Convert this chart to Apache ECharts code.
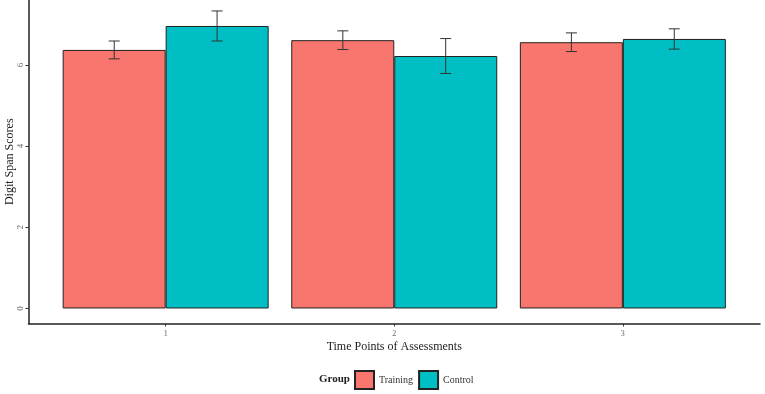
<!DOCTYPE html>
<html>
<head>
<meta charset="utf-8">
<script src="https://cdn.jsdelivr.net/npm/echarts@6/dist/echarts.min.js"></script>
<style>
  html, body { margin: 0; padding: 0; background: #fff; }
  #chart { width: 765px; height: 394px; }
</style>
</head>
<body>
<div id="chart"></div>
<script>
  // time points on the x axis
  const categories = [1, 2, 3];
  const yTicks = [0, 2, 4, 6];
  // group means and error half-widths
  const trainingMeans = [6.37, 6.61, 6.56];
  const trainingErr = [0.22, 0.23, 0.23];
  const controlMeans = [6.96, 6.22, 6.64];
  const controlErr = [0.37, 0.43, 0.25];

  const serif = 'Liberation Serif';
  const dodge = 0.225;

  function errorSeries(means, err, offset) {
    return {
      type: 'custom',
      silent: true,
      z: 10,
      data: categories.map((c, i) => [c, means[i] - err[i], means[i] + err[i]]),
      renderItem(params, api) {
        const x = api.value(0) + offset;
        const lo = api.coord([x, api.value(1)]);
        const hi = api.coord([x, api.value(2)]);
        const cap = 5.5;
        const style = { stroke: '#333', lineWidth: 1 };
        return {
          type: 'group',
          children: [
            { type: 'line', shape: { x1: lo[0], y1: lo[1], x2: hi[0], y2: hi[1] }, style },
            { type: 'line', shape: { x1: lo[0] - cap, y1: lo[1], x2: lo[0] + cap, y2: lo[1] }, style },
            { type: 'line', shape: { x1: hi[0] - cap, y1: hi[1], x2: hi[0] + cap, y2: hi[1] }, style }
          ]
        };
      }
    };
  }

  let myChart = echarts.init(document.getElementById('chart'));
  let option = {
    animation: false,
    title: {
      text: 'Group',
      left: 314,
      top: 369,
      textStyle: { fontFamily: serif, fontSize: 11, fontWeight: 'bold', color: '#222' }
    },
    legend: {
      data: ['Training', 'Control'],
      icon: 'rect',
      left: 349,
      top: 365,
      itemWidth: 19,
      itemHeight: 18,
      itemGap: 5,
      textStyle: { fontFamily: serif, fontSize: 10, color: '#333' }
    },
    grid: { left: 28.5, right: 5, top: 0, bottom: 70.5, containLabel: false, outerBoundsMode: 'none' },
    xAxis: {
      type: 'value',
      min: 0.4,
      max: 3.6,
      name: 'Time Points of Assessments',
      nameLocation: 'middle',
      nameGap: 17,
      nameMoveOverlap: false,
      nameTextStyle: { fontFamily: serif, fontSize: 12, color: '#222' },
      axisLine: { show: true, onZero: false, lineStyle: { color: '#222', width: 1.5 } },
      axisTick: { show: true, length: 3, customValues: categories, lineStyle: { color: '#333' } },
      axisLabel: { customValues: categories, fontFamily: serif, fontSize: 8, color: '#666', margin: 6 },
      splitLine: { show: false }
    },
    yAxis: {
      type: 'value',
      min: -0.37,
      max: 7.6,
      name: 'Digit Span Scores',
      nameLocation: 'middle',
      nameGap: 13,
      nameMoveOverlap: false,
      nameTextStyle: { fontFamily: serif, fontSize: 12, color: '#222' },
      axisLine: { show: true, onZero: false, lineStyle: { color: '#222', width: 1.5 } },
      axisTick: { show: true, length: 3, customValues: yTicks, lineStyle: { color: '#333' } },
      axisLabel: { customValues: yTicks, rotate: 90, fontFamily: serif, fontSize: 9, color: '#666', margin: 3 },
      splitLine: { show: false }
    },
    series: [
      {
        name: 'Training',
        type: 'bar',
        barWidth: 103,
        barGap: '0%',
        data: categories.map((c, i) => [c, trainingMeans[i]]),
        itemStyle: { color: '#F8766D', borderColor: '#222', borderWidth: 1 }
      },
      {
        name: 'Control',
        type: 'bar',
        barWidth: 103,
        barGap: '0%',
        data: categories.map((c, i) => [c, controlMeans[i]]),
        itemStyle: { color: '#00BFC4', borderColor: '#222', borderWidth: 1 }
      },
      errorSeries(trainingMeans, trainingErr, -dodge),
      errorSeries(controlMeans, controlErr, dodge)
    ]
  };
  myChart.setOption(option);
</script>
</body>
</html>
